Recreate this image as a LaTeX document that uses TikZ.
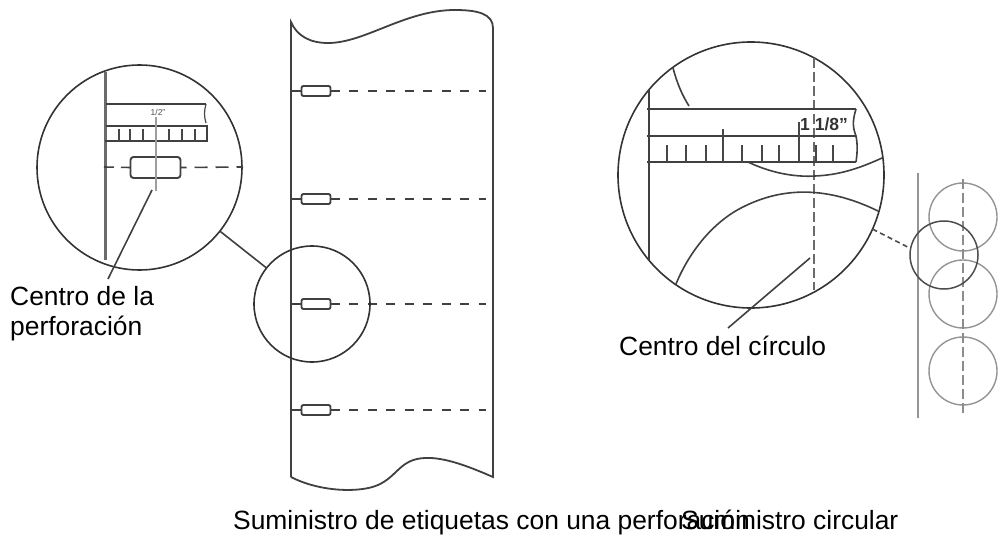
\documentclass[tikz,border=0pt]{standalone}
\usepackage{fontspec}
\setmainfont{Liberation Sans}
\tikzset{
 ink/.style={draw=black!75,line width=1.6pt},
 thin ink/.style={draw=black!72,line width=1.2pt},
 gray ink/.style={draw=black!42,line width=1.4pt},
 dashline/.style={ink,dash pattern=on 9pt off 9.5pt},
 holebox/.style={draw=black!75,line width=1.9pt,fill=white,rounded corners=2pt,minimum width=29pt,minimum height=10pt,inner sep=0,outer sep=0},
 lens/.style={circle,draw=black!80,line width=1.6pt,inner sep=0,outer sep=0},
 small ring/.style={circle,draw=black!42,line width=1.4pt,minimum size=68pt,inner sep=0,outer sep=0},
 label/.style={font=\fontsize{26.4pt}{30pt}\selectfont,text=black,inner sep=0,anchor=base west,align=left},
}
\begin{document}
\begin{tikzpicture}[x=1pt,y=-1pt]
\useasboundingbox (0,0) rectangle (1000,540);
% strip
\draw[ink,line width=1.8pt] (291,477) -- (291,22) .. controls (297,36) and (310,43) .. (328,43)
  .. controls (365,43) and (405,10) .. (455,10) .. controls (478,10) and (493,14) .. (493,28)
  -- (493,477) .. controls (470,467) and (445,457) .. (425,458)
  .. controls (400,459) and (398,476) .. (378,485) .. controls (360,493) and (320,492) .. (291,477);
\foreach \n/\y in {a/91,b/199,c/304,d/410}{
  \node[holebox] (hole\n) at (316,\y) {};
  \coordinate (sl\n) at (291,\y);
  \coordinate (sr\n) at (486,\y);
  \draw[ink] (sl\n) -- (hole\n);
  \draw[dashline] (hole\n) -- (sr\n);
}
\node[lens,minimum size=116pt] (lensA) at (312,304) {};
\node[lens,minimum size=205pt] (bigA) at (139.5,167.5) {};
\draw[ink] (bigA) -- (lensA);
% left detail
\draw[draw=black!58,line width=2.3pt] (105.5,72) -- (105.5,260);
\draw[ink] (106,104) -- (206,104);
\draw[thin ink] (206,104) .. controls (204,112) and (204,116) .. (206,123);
\draw[ink] (106,126) -- (207,126) -- (207,141) -- (105,141);
\foreach \x in {119,130,143,169,182,195}{\draw[thin ink] (\x,141) -- (\x,129);}
\draw[thin ink] (156,141) -- (156,117);
\node[font=\fontsize{8.5pt}{9pt}\selectfont,text=black!70,inner sep=0] (tA) at (158,112) {1/2"};
\node[holebox,minimum width=50pt,minimum height=21pt,rounded corners=3pt] (holeZ) at (155.5,167.5) {};
\coordinate (zl) at (104,167);
\coordinate (zr) at (243,167);
\draw[ink,dash pattern=on 10pt off 7pt on 9pt off 30pt] (zl) -- (holeZ.west);
\draw[ink,dash pattern=on 6pt off 8pt on 13pt off 8pt on 13pt off 8pt on 13pt off 20pt] (holeZ.east) -- (zr);
\draw[draw=black!38,line width=1.2pt] (156,117) -- (156,191);
\coordinate (ca) at (152,190);
\coordinate (cb) at (108,279);
\draw[ink] (ca) -- (cb);
\node[label] (tB) at (10,305) {Centro de la};
\node[label] (tC) at (10,335) {perforación};
% right detail
\node[lens,minimum size=266pt] (bigB) at (751,175) {};
\draw[draw=black!58,line width=1.2pt,dash pattern=on 10pt off 4pt] (814,58) -- (814,290);
\draw[ink] (649,90) -- (649,260);
\draw[ink] (673,68) .. controls (677,83) and (682,95) .. (689,106);
\draw[ink] (647,109) -- (856,109);
\draw[ink] (856,109) .. controls (852,122) and (853,128) .. (856,136) .. controls (858,146) and (857,155) .. (856,162);
\draw[ink] (647,136) -- (856,136);
\draw[ink] (647,162) -- (856,162);
\foreach \x in {667,686,706,742,762,779,816,833}{\draw[thin ink] (\x,162) -- (\x,145);}
\draw[thin ink] (723,162) -- (723,129);
\draw[thin ink] (799,162) -- (799,122);
\draw[ink] (748,162) .. controls (775,175) and (800,177) .. (815,176) .. controls (840,175) and (860,168) .. (882,158);
\draw[ink] (676,284) .. controls (690,250) and (715,220) .. (745,206) .. controls (790,184) and (835,190) .. (878,211);
\node[font=\bfseries\fontsize{17.5pt}{18pt}\selectfont,text=black!80,inner sep=0,anchor=base west] (tD) at (800,131) {1 1/8”};
\coordinate (cc) at (810,258);
\coordinate (cd) at (728,328);
\draw[ink] (cc) -- (cd);
\node[label] (tE) at (619,355) {Centro del círculo};
% supply roll
\coordinate (va) at (918,173);
\coordinate (vb) at (918,418);
\draw[gray ink] (va) -- (vb);
\foreach \n/\y in {a/217,b/294,c/371}{\node[small ring] (ring\n) at (963,\y) {};}
\coordinate (da) at (963,179);
\coordinate (db) at (963,416);
\draw[draw=black!45,line width=1.3pt,dash pattern=on 10pt off 4pt] (da) -- (db);
\node[circle,draw=black!70,line width=1.5pt,minimum size=68pt,inner sep=0,outer sep=0] (ringD) at (944,255) {};
\draw[draw=black!70,line width=1.6pt,dash pattern=on 5pt off 3.5pt] (bigB.-24.4) -- (ringD.169);
% captions
\node[label] (tF) at (233,529) {Suministro de etiquetas con una perforación};
\node[label] (tG) at (681,529) {Suministro circular};
\end{tikzpicture}
\end{document}
